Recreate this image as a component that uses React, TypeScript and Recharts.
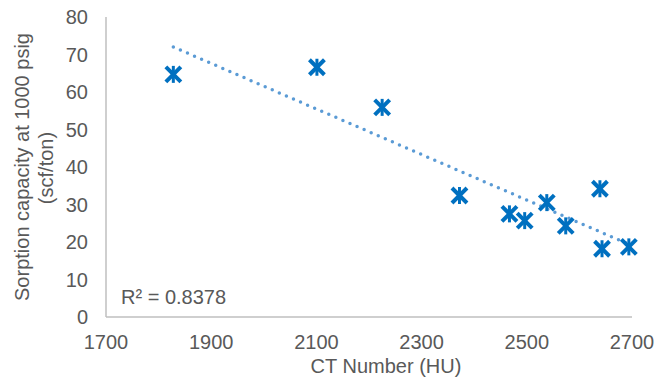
import { ScatterChart, Scatter, XAxis, YAxis, Customized } from "recharts";

// CT number (HU) vs sorption capacity at 1000 psig (scf/ton)
const ctNumber = [1828, 2101, 2225, 2372, 2467, 2496, 2538, 2574, 2639, 2643, 2694];
const sorption = [64.7, 66.6, 55.9, 32.4, 27.5, 25.7, 30.5, 24.3, 34.2, 18.2, 18.7];

// linear trendline end points
const trendX = [1828, 2694];
const trendY = [72.0, 19.4];

const xTicks = [1700, 1900, 2100, 2300, 2500, 2700];
const yTicks = [0, 10, 20, 30, 40, 50, 60, 70, 80];
const rSquared = "R² = 0.8378";

const points = ctNumber.map((x, i) => ({ x, y: sorption[i] }));
const trend = trendX.map((x, i) => ({ x, y: trendY[i] }));

const FONT = "'Liberation Sans', Arial, sans-serif";
const TEXT = "#595959";
const AXIS = "#BFBFBF";

function StarMarker(props: any) {
  const { cx, cy } = props;
  const r = 7.5;
  return (
    <g stroke="#0070C0" strokeWidth={4} strokeLinecap="butt">
      <line x1={cx - r} y1={cy - r} x2={cx + r} y2={cy + r} />
      <line x1={cx - r} y1={cy + r} x2={cx + r} y2={cy - r} />
      <line x1={cx} y1={cy - r - 1} x2={cx} y2={cy + r + 1} strokeWidth={3} />
    </g>
  );
}

const NoMarker = () => <g />;

function YTitle() {
  return (
    <g fill={TEXT} fontFamily={FONT} fontSize={20}>
      <text x={22} y={167} textAnchor="middle" dominantBaseline="central" transform="rotate(-90, 22, 167)">
        Sorption capacity at 1000 psig
      </text>
      <text x={46} y={168} textAnchor="middle" dominantBaseline="central" transform="rotate(-90, 46, 168)">
        (scf/ton)
      </text>
    </g>
  );
}

function XTitle() {
  return (
    <text x={386} y={373} textAnchor="middle" fill={TEXT} fontFamily={FONT} fontSize={20}>
      CT Number (HU)
    </text>
  );
}

function RLabel() {
  return (
    <text x={121} y={304} fill={TEXT} fontFamily={FONT} fontSize={20}>
      {rSquared}
    </text>
  );
}

export default function App() {
  const tick = { fontSize: 20, fill: TEXT, fontFamily: FONT };
  return (
    <div style={{ position: "absolute", left: 0, top: 0, background: "#fff" }}>
      <ScatterChart width={657} height={381} margin={{ top: 17, right: 25, bottom: 0, left: 0 }}>
        <XAxis
          type="number"
          dataKey="x"
          domain={[1700, 2700]}
          ticks={xTicks}
          tick={tick}
          tickLine={false}
          tickSize={0}
          tickMargin={18}
          axisLine={{ stroke: AXIS, strokeWidth: 1.5 }}
          height={64}
          interval={0}
        />
        <YAxis
          type="number"
          dataKey="y"
          domain={[0, 80]}
          ticks={yTicks}
          tick={tick}
          tickLine={false}
          tickSize={0}
          tickMargin={18}
          axisLine={{ stroke: AXIS, strokeWidth: 1.5 }}
          width={106}
          interval={0}
        />
        <Scatter
          data={trend}
          line={{ stroke: "#5B9BD5", strokeWidth: 3.5, strokeDasharray: "0 7.7", strokeLinecap: "round" }}
          shape={NoMarker}
          isAnimationActive={false}
        />
        <Scatter data={points} shape={StarMarker} isAnimationActive={false} />
        <Customized component={YTitle} />
        <Customized component={XTitle} />
        <Customized component={RLabel} />
      </ScatterChart>
    </div>
  );
}
